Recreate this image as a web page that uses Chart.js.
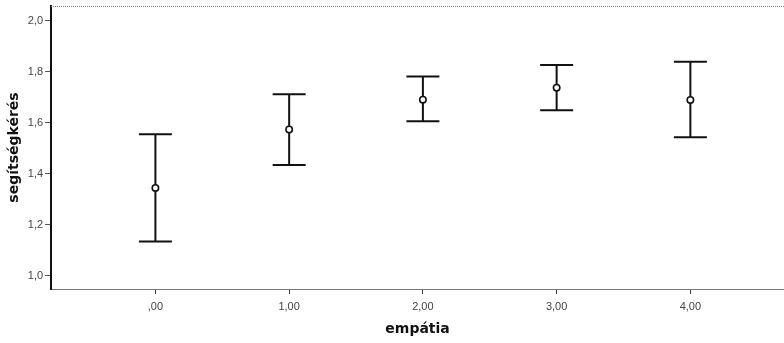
<!DOCTYPE html>
<html>
<head>
<meta charset="utf-8">
<script src="https://cdn.jsdelivr.net/npm/chart.js@4"></script>
<style>
  html, body { margin: 0; padding: 0; background: #fff; }
  #wrap { width: 784px; height: 343px; }
</style>
</head>
<body>
<div id="wrap"><canvas id="c" width="784" height="343"></canvas></div>
<script>
// empátia groups (x) and segítségkérés means with CI bounds
var groups = [0, 1, 2, 3, 4];
var groupLabels = [',00', '1,00', '2,00', '3,00', '4,00'];
var means = [1.344, 1.573, 1.690, 1.737, 1.689];
var lower = [1.134, 1.434, 1.605, 1.648, 1.543];
var upper = [1.554, 1.711, 1.781, 1.826, 1.839];
var yTicks = [1.0, 1.2, 1.4, 1.6, 1.8, 2.0];
var yTickLabels = ['1,0', '1,2', '1,4', '1,6', '1,8', '2,0'];

var ink = '#111';

// one vertical whisker per group, caps drawn as 'line' point markers
var whiskers = groups.map(function(g, i) {
  return {
    type: 'line',
    data: [{ x: g, y: lower[i] }, { x: g, y: upper[i] }],
    borderColor: ink, borderWidth: 2,
    pointStyle: 'line', pointRadius: 16.5, pointBorderWidth: 2,
    pointBorderColor: ink, pointHoverRadius: 16.5,
    order: 2
  };
});

var meanSet = {
  type: 'scatter',
  data: groups.map(function(g, i) { return { x: g, y: means[i] }; }),
  pointStyle: 'circle', pointRadius: 3.2, pointBorderWidth: 1.6,
  pointBorderColor: ink, pointBackgroundColor: '#fff',
  order: 1
};

var topBorder = {
  id: 'topBorder',
  afterDraw: function(chart) {
    var a = chart.chartArea, c = chart.ctx;
    c.save();
    c.strokeStyle = '#777';
    c.lineWidth = 1;
    c.setLineDash([1, 1]);
    c.beginPath();
    c.moveTo(a.left, a.top + 0.5);
    c.lineTo(a.right, a.top + 0.5);
    c.stroke();
    c.restore();
  }
};

new Chart(document.getElementById('c'), {
  type: 'scatter',
  data: { datasets: whiskers.concat([meanSet]) },
  options: {
    responsive: false, animation: false,
    layout: { autoPadding: false, padding: { top: 6, right: 0, bottom: 5, left: 6 } },
    plugins: { legend: { display: false }, tooltip: { enabled: false } },
    scales: {
      x: {
        type: 'linear', min: -0.78, max: 4.70,
        afterBuildTicks: function(s) { s.ticks = groups.map(function(v) { return { value: v }; }); },
        ticks: {
          color: '#444', font: { family: 'Liberation Sans', size: 11 }, padding: 6,
          maxRotation: 0, autoSkip: false,
          callback: function(v) { return groupLabels[groups.indexOf(v)]; }
        },
        grid: { drawOnChartArea: false, drawTicks: true, tickLength: 5, color: '#333', tickWidth: 1 },
        border: { color: '#777', width: 1, dash: [1, 1] },
        title: { display: true, text: 'empátia', color: '#111', padding: { top: 2, bottom: 0 },
                 font: { family: 'DejaVu Sans', size: 14, weight: 'bold' } }
      },
      y: {
        min: 0.948, max: 2.057,
        afterBuildTicks: function(s) { s.ticks = yTicks.map(function(v) { return { value: v }; }); },
        afterFit: function(s) { s.paddingTop = 0; s.paddingBottom = 0; },
        ticks: {
          color: '#444', font: { family: 'Liberation Sans', size: 11 }, padding: 2,
          callback: function(v) { return yTickLabels[yTicks.indexOf(v)]; }
        },
        grid: { drawOnChartArea: false, drawTicks: true, tickLength: 6, color: '#555', tickWidth: 1 },
        border: { color: '#111', width: 2 },
        title: { display: true, text: 'segítségkérés', color: '#111', padding: { top: 0, bottom: 3 },
                 font: { family: 'DejaVu Sans', size: 14, weight: 'bold' } }
      }
    }
  },
  plugins: [topBorder]
});
</script>
</body>
</html>
